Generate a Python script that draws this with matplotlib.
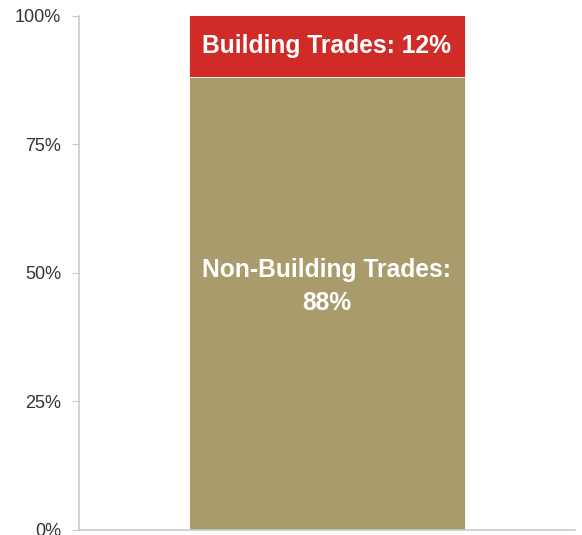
import matplotlib.pyplot as plt

plt.rcParams['font.family'] = ['Liberation Sans', 'DejaVu Sans']

# data
segments = ['Non-Building Trades', 'Building Trades']
values = [88, 12]
colors = ['#A99B6B', '#D02B27']
labels = ['Non-Building Trades:\n88%', 'Building Trades: 12%']
yticks = [0, 25, 50, 75, 100]

fig = plt.figure(figsize=(5.82, 5.35), dpi=100)
ax = fig.add_axes([79/582, 5/535, 496/582, 514.5/535])

bottom = 0
for v, c, lab in zip(values, colors, labels):
    ax.bar(0, v, width=0.556, bottom=bottom, color=c, edgecolor='white', linewidth=0.6)
    if lab.startswith('Building'):
        ty = bottom + v / 2 + 0.1
    else:
        ty = 47.3
    ax.text(0, ty, lab, ha='center', va='center', color='white',
            fontsize=17.7, fontweight='bold', linespacing=1.45)
    bottom += v

ax.set_xlim(-0.5, 0.5)
ax.set_ylim(0, 100)
ax.set_yticks(yticks)
ax.set_yticklabels([f'{t}%' for t in yticks], fontsize=13, color='#333333')
ax.set_xticks([])
ax.tick_params(axis='y', length=5, color='#C8C8D0', pad=8)
for s in ['top', 'right']:
    ax.spines[s].set_visible(False)
for s in ['left', 'bottom']:
    ax.spines[s].set_color('#C8C8D0')
    ax.spines[s].set_linewidth(1.2)

fig.savefig('out.png', dpi=100)
